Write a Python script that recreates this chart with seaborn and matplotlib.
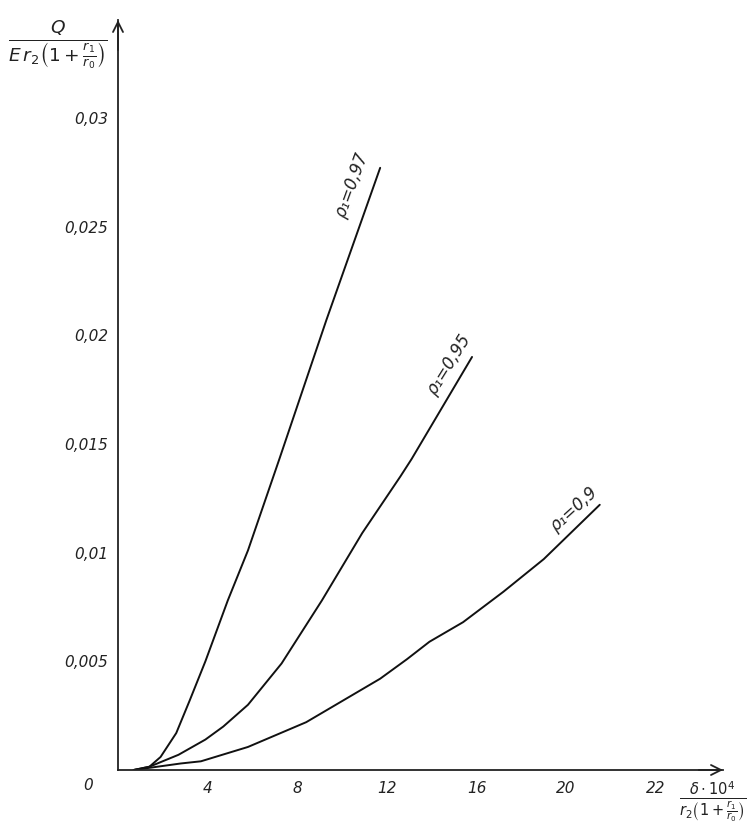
import matplotlib
matplotlib.use("Agg")
import matplotlib.pyplot as plt
import seaborn as sns
import pandas as pd

# ---- data ----
x_097 = [0.7, 1.4, 1.9, 2.6, 3.2, 3.9, 4.9, 5.8, 7.2, 9.3, 11.7]
q_097 = [0.0, 0.00015, 0.0006, 0.0017, 0.0032, 0.005, 0.0078, 0.0101, 0.0143, 0.0207, 0.0277]

x_095 = [0.7, 1.4, 2.7, 3.9, 4.7, 5.8, 7.3, 9.1, 10.9, 12.6, 13.1, 15.8]
q_095 = [0.0, 0.00015, 0.0007, 0.0014, 0.002, 0.003, 0.0049, 0.0078, 0.0109, 0.0135, 0.0143, 0.019]

x_090 = [0.7, 1.4, 2.8, 3.7, 5.8, 8.4, 11.7, 12.9, 13.9, 15.4, 17.2, 19.0, 21.5]
q_090 = [0.0, 0.0001, 0.0003, 0.0004, 0.00106, 0.0022, 0.0042, 0.0051, 0.0059, 0.0068, 0.0082, 0.0097, 0.0122]

series_labels = ["ρ₁=0,97", "ρ₁=0,95", "ρ₁=0,9"]

x_ticks = [4, 8, 12, 16, 20, 24]
x_tick_labels = ["4", "8", "12", "16", "20", "22"]
y_ticks = [0.005, 0.01, 0.015, 0.02, 0.025, 0.03]
y_tick_labels = ["0,005", "0,01", "0,015", "0,02", "0,025", "0,03"]

df = pd.concat([
    pd.DataFrame({"x": x_097, "q": q_097, "s": series_labels[0]}),
    pd.DataFrame({"x": x_095, "q": q_095, "s": series_labels[1]}),
    pd.DataFrame({"x": x_090, "q": q_090, "s": series_labels[2]}),
])

sns.set_style("white")
plt.rcParams["font.family"] = ["DejaVu Sans"]

fig = plt.figure(figsize=(7.5, 8.34), dpi=100)
ax = fig.add_axes([118 / 750, (834 - 770) / 834, (723 - 118) / 750, (770 - 20) / 834])

sns.lineplot(data=df, x="x", y="q", hue="s", palette=["#111111"] * 3,
             legend=False, linewidth=1.4, ax=ax, estimator=None, sort=False)

ax.set_xlim(0, 27)
ax.set_ylim(0, 0.0345)

for side in ("top", "right"):
    ax.spines[side].set_visible(False)
for side in ("left", "bottom"):
    ax.spines[side].set_color("#222222")
    ax.spines[side].set_linewidth(1.3)

ax.set_xticks(x_ticks)
ax.set_xticklabels(x_tick_labels, fontstyle="italic", fontsize=11, color="#222222")
ax.set_yticks(y_ticks)
ax.set_yticklabels(y_tick_labels, fontstyle="italic", fontsize=11, color="#222222")
ax.tick_params(axis="x", direction="out", length=4, width=1.0, pad=4, color="#222222")
ax.tick_params(axis="y", direction="out", length=6, width=1.0, pad=1, color="#222222")
ax.set_xlabel("")
ax.set_ylabel("")

# origin label
ax.text(-0.05, -0.02, "0", transform=ax.transAxes, fontstyle="italic",
        fontsize=11, ha="center", va="center", color="#222222")

# axis arrows
ax.annotate("", xy=(0, 1.0), xytext=(0, 0.96), xycoords="axes fraction",
            arrowprops=dict(arrowstyle="->", lw=1.3, color="#222222",
                            mutation_scale=18, shrinkA=0, shrinkB=0))
ax.annotate("", xy=(1.0, 0), xytext=(0.96, 0), xycoords="axes fraction",
            arrowprops=dict(arrowstyle="->", lw=1.3, color="#222222",
                            mutation_scale=18, shrinkA=0, shrinkB=0))

# curve labels
label_pos = [(10.45, 0.0269, 70), (14.8, 0.01864, 58), (20.36, 0.0120, 42)]
for lab, (lx, ly, rot) in zip(series_labels, label_pos):
    ax.text(lx, ly, lab, rotation=rot, rotation_mode="anchor", ha="center",
            va="center", fontstyle="italic", fontsize=12, color="#222222")

# axis titles as fractions
fig.text(58 / 750, 1 - 44 / 834,
         r"$\frac{Q}{E\,r_2\left(1+\frac{r_1}{r_0}\right)}$",
         fontsize=19, ha="center", va="center", color="#222222")
fig.text(713 / 750, 1 - 802 / 834,
         r"$\frac{\delta\cdot 10^4}{r_2\left(1+\frac{r_1}{r_0}\right)}$",
         fontsize=15, ha="center", va="center", color="#222222")

fig.savefig("out.png", dpi=100)
